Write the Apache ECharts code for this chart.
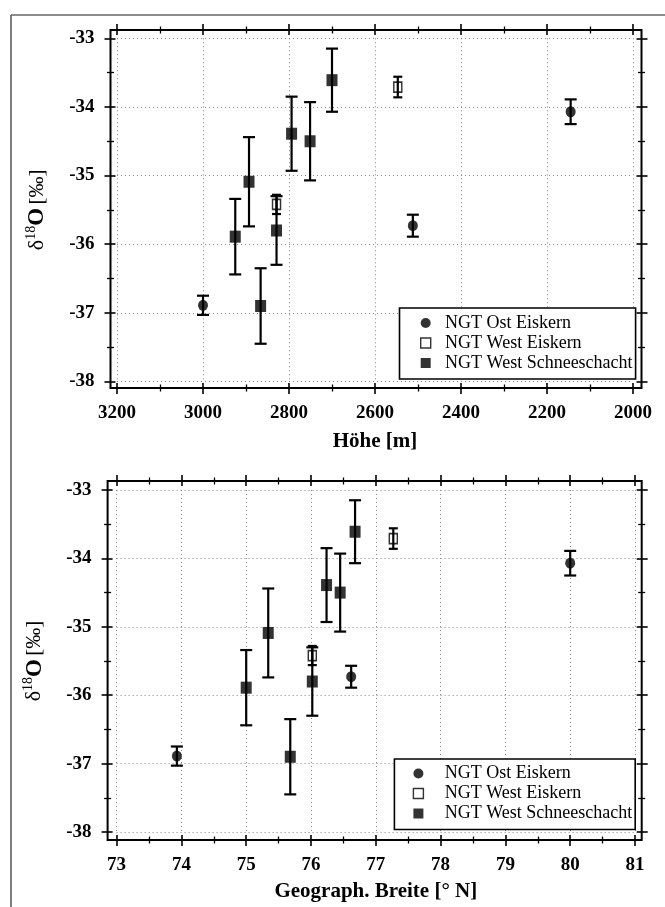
<!DOCTYPE html>
<html><head><meta charset="utf-8">
<script src="https://cdn.jsdelivr.net/npm/echarts@6/dist/echarts.min.js"></script>
<style>html,body{margin:0;padding:0;background:#fff}#c{width:665px;height:907px}</style>
</head><body><div id="c"></div>
<script>
// ---------------- DATA ----------------
const seriesNames = ['NGT Ost Eiskern', 'NGT West Eiskern', 'NGT West Schneeschacht'];

const ostHoehe   = [2145, 2512, 3000];
const ostBreite  = [80.00, 76.62, 73.93];
const ostD18O    = [-34.07, -35.73, -36.89];
const ostErr     = [0.18, 0.16, 0.14];

const westEisHoehe  = [2547, 2829];
const westEisBreite = [77.27, 76.02];
const westEisD18O   = [-33.71, -35.42];
const westEisErr    = [0.15, 0.14];

const schneeHoehe  = [2700, 2794, 2751, 2893, 2925, 2866, 2829];
const schneeBreite = [76.68, 76.24, 76.45, 75.34, 75.00, 75.68, 76.02];
const schneeD18O   = [-33.61, -34.39, -34.50, -35.09, -35.89, -36.90, -35.80];
const schneeErr    = [0.46, 0.54, 0.57, 0.65, 0.55, 0.55, 0.50];

const hoeheAxis  = {min: 2000, max: 3200, interval: 200, inverse: true};
const breiteAxis = {min: 73, max: 81, interval: 1, inverse: false};
const d18OAxis   = {min: -38, max: -33, interval: 1};

const hoeheTitle  = 'Höhe [m]';
const breiteTitle = 'Geograph. Breite [° N]';

// ---------------- STYLE / LAYOUT ----------------
const FONT = 'Liberation Serif';
const W = 665, H = 907;
const charts = [
  {frame: {l: 110.5, r: 641.5, t: 30, b: 388}, inner: {l: 117, r: 633, t: 38.3, b: 381.5},
   xCfg: hoeheAxis, xTitle: hoeheTitle, xNameGap: 43, xs: [ostHoehe, westEisHoehe, schneeHoehe],
   legend: {left: 399.5, top: 308, pad: [6, 3, 7, 20.5], textPad: 9.4}},
  {frame: {l: 107.6, r: 641.7, t: 481, b: 840}, inner: {l: 116.6, r: 635, t: 490, b: 832},
   xCfg: breiteAxis, xTitle: breiteTitle, xNameGap: 41, xs: [ostBreite, westEisBreite, schneeBreite],
   legend: {left: 394.4, top: 759, pad: [5.5, 3, 7, 18.3], textPad: 16.3}}
];

const grids = [], xAxes = [], yAxes = [], series = [], legends = [];

const tickStyle = {color: '#000', width: 1.6};
const splitStyle = {color: '#888', width: 1, type: [1, 3]};

function axisBase(cfg, gridIndex, position, inside, offset) {
  return {
    type: 'value', gridIndex, position, offset,
    min: cfg.min, max: cfg.max, interval: cfg.interval, inverse: !!cfg.inverse,
    axisLine: {show: false},
    axisTick: {show: true, inside, length: inside ? 5 : 6, lineStyle: tickStyle},
    minorTick: {show: true, splitNumber: 2, length: 3.5, lineStyle: {color: '#000', width: 1.3}},
    splitLine: {show: false},
    axisLabel: {show: false},
    silent: true
  };
}

const yNameRich = {
  d: {fontFamily: FONT, fontSize: 22, color: '#000'},
  s: {fontFamily: FONT, fontSize: 14, color: '#000', padding: [0, 0, 12, 0]},
  o: {fontFamily: FONT, fontSize: 23, fontWeight: 'bold', color: '#000'},
  b: {fontFamily: FONT, fontSize: 21, color: '#000'}
};

charts.forEach((c, ci) => {
  const f = c.frame, n = c.inner;
  grids.push({show: true, left: f.l, top: f.t, width: f.r - f.l, height: f.b - f.t,
    borderColor: '#000', borderWidth: 2, backgroundColor: 'transparent', z: 0});
  const gi = grids.length;
  grids.push({show: false, left: n.l, top: n.t, width: n.r - n.l, height: n.b - n.t});

  const offB = f.b - n.b, offT = n.t - f.t, offL = n.l - f.l, offR = f.r - n.r;
  const xb = axisBase(c.xCfg, gi, 'bottom', false, offB);
  xb.splitLine = {show: true, lineStyle: splitStyle};
  xb.axisLabel = {show: true, fontFamily: FONT, fontWeight: 'bold', fontSize: 19, color: '#000', margin: 16,
                  formatter: v => String(v)};
  xb.name = c.xTitle; xb.nameLocation = 'middle'; xb.nameGap = c.xNameGap;
  xb.nameTextStyle = {fontFamily: FONT, fontWeight: 'bold', fontSize: 21, color: '#000'};
  const xbase = xAxes.length;
  xAxes.push(xb, axisBase(c.xCfg, gi, 'bottom', true, offB),
             axisBase(c.xCfg, gi, 'top', false, offT), axisBase(c.xCfg, gi, 'top', true, offT));

  const yl = axisBase(d18OAxis, gi, 'left', false, offL);
  yl.splitLine = {show: true, lineStyle: splitStyle};
  yl.axisLabel = {show: true, fontFamily: FONT, fontWeight: 'bold', fontSize: 19, color: '#000', margin: 16,
                  formatter: v => String(v)};
  yl.name = '{d|δ}{s|18}{o|O} {b|[‰]}';
  yl.nameLocation = 'middle'; yl.nameRotate = 90; yl.nameGap = 60;
  yl.nameTextStyle = {rich: yNameRich};
  const ybase = yAxes.length;
  yAxes.push(yl, axisBase(d18OAxis, gi, 'left', true, offL),
             axisBase(d18OAxis, gi, 'right', false, offR), axisBase(d18OAxis, gi, 'right', true, offR));

  const ys = [ostD18O, westEisD18O, schneeD18O];
  const es = [ostErr, westEisErr, schneeErr];
  const caps = [6, 4.5, 6];
  const symbols = [
    {symbol: 'circle', symbolSize: [10, 11], itemStyle: {color: '#000'}},
    {symbol: 'rect', symbolSize: [8, 10], itemStyle: {color: 'rgba(0,0,0,0)', borderColor: '#000', borderWidth: 1.6}},
    {symbol: 'rect', symbolSize: [11, 12], itemStyle: {color: '#000'}}
  ];
  for (let k = 0; k < 3; k++) {
    const xsK = c.xs[k], ysK = ys[k], esK = es[k];
    const cap = caps[k];
    series.push({
      type: 'custom', name: 'err' + ci + k, xAxisIndex: xbase, yAxisIndex: ybase, silent: true,
      data: xsK.map((x, i) => [x, ysK[i] - esK[i], ysK[i] + esK[i]]),
      encode: {x: 0, y: [1, 2]},
      renderItem: (params, api) => {
        const x = api.value(0);
        const a = api.coord([x, api.value(1)]), b = api.coord([x, api.value(2)]);
        const st = {stroke: '#000', lineWidth: 2.2};
        return {type: 'group', children: [
          {type: 'line', shape: {x1: a[0], y1: a[1], x2: b[0], y2: b[1]}, style: st},
          {type: 'line', shape: {x1: a[0] - cap, y1: a[1], x2: a[0] + cap, y2: a[1]}, style: st},
          {type: 'line', shape: {x1: b[0] - cap, y1: b[1], x2: b[0] + cap, y2: b[1]}, style: st}
        ]};
      },
      z: 3
    });
    series.push(Object.assign({
      type: 'scatter', name: seriesNames[k], xAxisIndex: xbase, yAxisIndex: ybase, silent: true,
      data: xsK.map((x, i) => [x, ysK[i]]), z: 4
    }, symbols[k]));
  }

  const L = c.legend;
  legends.push({
    orient: 'vertical', left: L.left, top: L.top, padding: L.pad,
    itemWidth: 10, itemHeight: 10, itemGap: 2,
    borderColor: '#000', borderWidth: 1.6, backgroundColor: '#fff',
    selectedMode: false,
    textStyle: {fontFamily: FONT, fontSize: 18, color: '#000', lineHeight: 17, padding: [0, 0, 0, L.textPad]},
    data: [
      {name: seriesNames[0], icon: 'circle', itemStyle: {color: '#000', borderWidth: 0}},
      {name: seriesNames[1], icon: 'rect', itemStyle: {color: '#fff', borderColor: '#000', borderWidth: 1.4}},
      {name: seriesNames[2], icon: 'rect', itemStyle: {color: '#000', borderWidth: 0}}
    ]
  });
});

const chart = echarts.init(document.getElementById('c'), null, {renderer: 'canvas'});
chart.setOption({
  animation: false,
  backgroundColor: '#fff',
  grid: grids,
  xAxis: xAxes,
  yAxis: yAxes,
  legend: legends,
  series,
  graphic: [
    {type: 'line', shape: {x1: 11, y1: 15, x2: W, y2: 15}, style: {stroke: '#666', lineWidth: 1.5}, silent: true},
    {type: 'line', shape: {x1: 11, y1: 15, x2: 11, y2: H}, style: {stroke: '#555', lineWidth: 1.5}, silent: true}
  ]
});
</script></body></html>
